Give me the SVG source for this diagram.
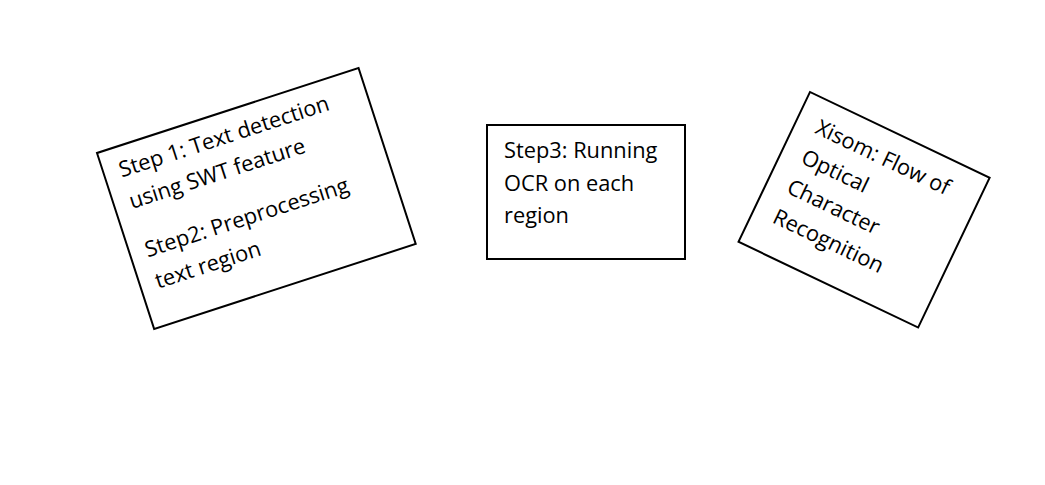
<svg xmlns="http://www.w3.org/2000/svg" width="1045" height="485" viewBox="0 0 1045 485">
<style>
.box{fill:#fff;stroke:#000;stroke-width:2}
.t{font-family:"Open Sans","Noto Sans",sans-serif;font-size:21.8px;fill:#000}
</style>
<rect width="1045" height="485" fill="#fff"/>
<g id="connectors"></g>
<g id="node-step1-2" transform="translate(97,153) rotate(-18)">
<rect class="box" x="0" y="0" width="275" height="185"/>
<text class="t" x="16" y="31">Step 1: Text detection</text>
<text class="t" x="16" y="64">using SWT feature</text>
<text class="t" x="16" y="115">Step2: Preprocessing</text>
<text class="t" x="16" y="148">text region</text>
</g>
<g id="node-step3">
<rect class="box" x="487" y="125" width="198" height="134"/>
<text class="t" x="504" y="158">Step3: Running</text>
<text class="t" x="504" y="191">OCR on each</text>
<text class="t" x="504" y="223">region</text>
</g>
<g id="node-title" transform="translate(810,92) rotate(25.5)">
<rect class="box" x="0" y="0" width="199" height="166"/>
<text class="t" x="21" y="35">Xisom: Flow of</text>
<text class="t" x="21" y="68">Optical</text>
<text class="t" x="21" y="101">Character</text>
<text class="t" x="21" y="134">Recognition</text>
</g>
</svg>
